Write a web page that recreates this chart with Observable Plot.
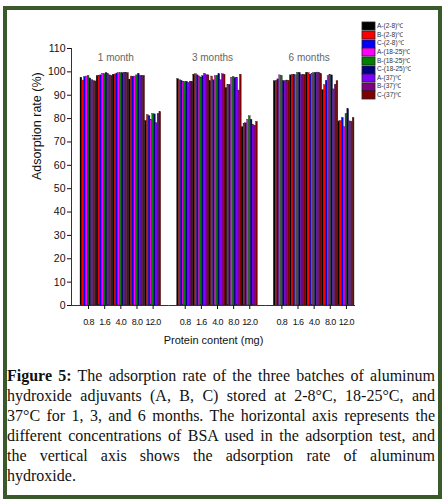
<!DOCTYPE html>
<html>
<head>
<meta charset="utf-8">
<script src="https://cdn.jsdelivr.net/npm/d3@7"></script>
<script src="https://cdn.jsdelivr.net/npm/@observablehq/plot@0.6"></script>
<style>
  html, body { margin: 0; padding: 0; background: #fff; width: 445px; height: 502px; overflow: hidden; }
  #frame { position: absolute; left: 3px; top: 6px; width: 439px; height: 493px; border: 4px solid #3b5a2b; box-sizing: border-box; z-index: 5; pointer-events: none; }
  #chart { position: absolute; left: 0; top: 0; }
  #legend { position: absolute; left: 362px; top: 22px; z-index: 3; }
  .lg-swatches { font-family: "Liberation Sans", Arial, sans-serif !important; font-size: 6.5px !important; color: #333; margin: 0 !important; }
  .lg-swatch { height: 8.65px; padding-bottom: 0 !important; }
  .lg-swatch > svg { margin-right: 2px !important; }
  .lg-swatch rect { stroke: #222; stroke-width: 0.8px; }
  .lg-swatch-label { line-height: 8.65px; }
  #cap { position: absolute; left: 7px; top: 366px; width: 428px; font-family: "Liberation Serif", "Times New Roman", serif; font-size: 16px; line-height: 20px; color: #111; text-align: justify; text-align-last: justify; }
  g[aria-label="x-axis tick label"] text { letter-spacing: -0.6px; }
</style>
</head>
<body>
<div id="frame"></div>
<div id="chart"></div>
<div id="legend"></div>
<div id="cap"><b>Figure 5:</b> The adsorption rate of the three batches of aluminum<br>hydroxide adjuvants (A, B, C) stored at 2-8°C, 18-25°C, and<br>37°C for 1, 3, and 6 months. The horizontal axis represents the<br>different concentrations of BSA used in the adsorption test, and<br>the vertical axis shows the adsorption rate of aluminum<br>hydroxide.</div>
<script>
const months = ["1 month", "3 months", "6 months"];
const concentrations = ["0.8", "1.6", "4.0", "8.0", "12.0"];
const series = ["A-(2-8)℃", "B-(2-8)℃", "C-(2-8)℃", "A-(18-25)℃", "B-(18-25)℃", "C-(18-25)℃", "A-(37)℃", "B-(37)℃", "C-(37)℃"];
const seriesColors = ["#000000", "#ff0000", "#0000ff", "#ff00ff", "#008000", "#000080", "#8000ff", "#800080", "#800000"];
const yTicks = [0, 10, 20, 30, 40, 50, 60, 70, 80, 90, 100, 110];

// adsorption rate (%) per concentration, one value per series
const rate1Month = [
  [97.5, 96.3, 97.8, 98.0, 98.3, 97.2, 96.5, 96.1, 95.9],
  [98.2, 98.3, 98.5, 99.2, 99.0, 99.5, 99.0, 98.5, 98.3],
  [98.8, 98.9, 99.3, 99.5, 99.5, 99.4, 99.6, 99.5, 99.5],
  [96.7, 98.0, 97.8, 98.0, 98.5, 99.2, 98.2, 98.2, 98.3],
  [79.0, 81.5, 81.0, 79.5, 82.0, 81.8, 78.0, 82.0, 82.8]
];
const rate3Months = [
  [96.9, 96.4, 96.2, 95.7, 95.7, 95.8, 95.3, 95.8, 95.8],
  [98.8, 99.0, 98.5, 98.0, 97.6, 98.2, 99.2, 98.6, 98.5],
  [96.0, 98.0, 96.4, 98.2, 98.3, 99.0, 96.4, 99.0, 98.8],
  [93.0, 94.3, 94.5, 97.5, 97.8, 97.3, 97.5, 92.0, 98.8],
  [76.3, 77.8, 78.0, 79.5, 81.0, 79.5, 77.2, 77.0, 78.6]
];
const rate6Months = [
  [96.0, 96.1, 96.8, 98.5, 98.3, 96.1, 96.0, 96.3, 96.2],
  [98.5, 98.7, 98.7, 98.6, 99.6, 99.6, 98.6, 98.6, 98.7],
  [99.6, 99.5, 98.8, 99.0, 99.5, 99.6, 99.7, 99.5, 99.0],
  [92.2, 94.3, 96.2, 98.2, 98.6, 98.5, 92.5, 94.5, 96.0],
  [78.8, 79.0, 80.3, 76.3, 82.0, 84.0, 78.8, 78.7, 80.3]
];

const rates = [rate1Month, rate3Months, rate6Months];
const keyOf = (c, s) => c + "|" + s;
const keys = concentrations.flatMap(c => series.map(s => keyOf(c, s)));
const tickKeys = concentrations.map(c => keyOf(c, series[4]));

const data = [];
months.forEach((m, mi) => concentrations.forEach((c, ci) => series.forEach((s, si) => {
  data.push({month: m, key: keyOf(c, s), series: s, value: rates[mi][ci][si]});
})));

const chart = Plot.plot({
  width: 445,
  height: 350,
  marginLeft: 80,
  marginRight: 91,
  marginTop: 48,
  marginBottom: 45,
  style: {fontFamily: "'Liberation Sans', Arial, sans-serif", background: "transparent", color: "#111"},
  fx: {domain: months, paddingInner: 0.165, paddingOuter: 0, round: false, axis: null},
  x: {domain: keys, padding: 0, round: false, axis: null},
  y: {domain: [0, 110]},
  color: {domain: series, range: seriesColors},
  marks: [
    Plot.barY(data, {fx: "month", x: "key", y: "value", fill: "series", stroke: "#222", strokeWidth: 0.35}),
    Plot.frame({anchor: "left", facetAnchor: "left", dx: -9, stroke: "#333"}),
    Plot.ruleY([months[0]], {fx: d => d, y: () => 0, insetLeft: -9, insetRight: -8, stroke: "#333"}),
    Plot.ruleY([months[1]], {fx: d => d, y: () => 0, insetLeft: -8, insetRight: -8, stroke: "#333"}),
    Plot.ruleY([months[2]], {fx: d => d, y: () => 0, insetLeft: -8, insetRight: -1, stroke: "#333"}),
    Plot.axisY({ticks: yTicks, tickSize: 4, tickPadding: 2, fontSize: 10.5, dx: -9, label: null}),
    Plot.axisX({ticks: tickKeys, tickFormat: d => d.split("|")[0], tickSize: 4, tickPadding: 9, fontSize: 9, label: null}),
    Plot.text(months, {fx: d => d, text: d => d, frameAnchor: "top", dy: 5, dx: -5, fontSize: 10, fill: "#666"}),
    Plot.text(["Protein content (mg)"], {fx: () => months[1], text: d => d, frameAnchor: "bottom", dy: 38, dx: -4, fontSize: 11}),
    Plot.text(["Adsorption rate (%)"], {fx: () => months[0], text: d => d, frameAnchor: "left", rotate: -90, dx: -44, dy: 3, fontSize: 12.5})
  ]
});
document.getElementById("chart").append(chart);

const legend = Plot.legend({
  color: {type: "ordinal", domain: series, range: seriesColors},
  columns: 1,
  swatchWidth: 13,
  swatchHeight: 8,
  className: "lg"
});
document.getElementById("legend").append(legend);
</script>
</body>
</html>
